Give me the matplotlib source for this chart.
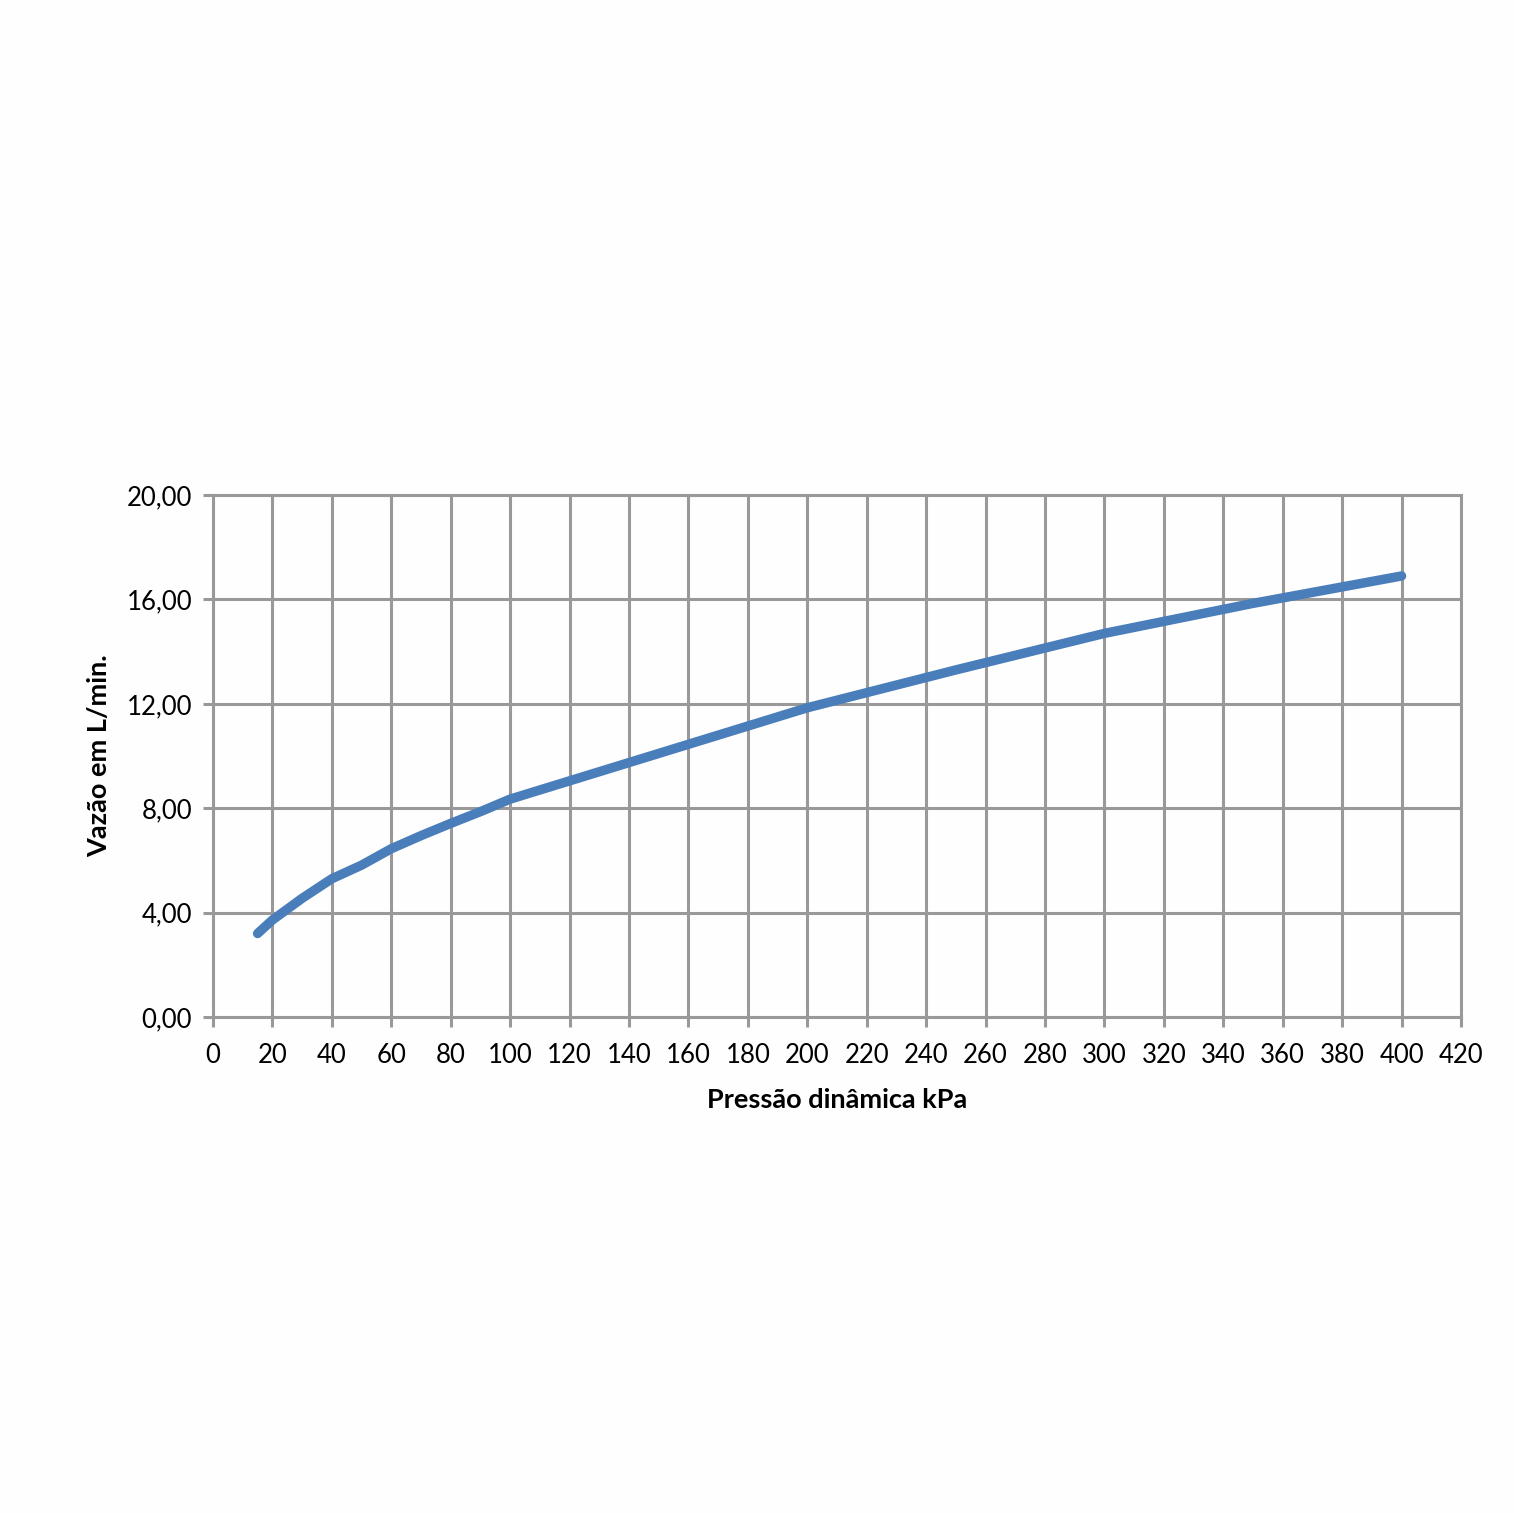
import matplotlib.pyplot as plt
from matplotlib.ticker import FuncFormatter, MultipleLocator

# values
pressure_kpa = [15, 20, 30, 40, 50, 60, 70, 80, 90, 100, 150, 200, 250, 300, 350, 400]
flow_lpm = [3.2, 3.72, 4.55, 5.3, 5.82, 6.45, 6.95, 7.42, 7.87, 8.35,
            10.1, 11.85, 13.3, 14.7, 15.85, 16.9]

x_label = "Pressão dinâmica kPa"
y_label = "Vazão em L/min."

GRID = "#999999"
LINE = "#4a7ebb"


def main() -> None:
    plt.rcParams["font.family"] = ["Lato", "DejaVu Sans"]

    fig = plt.figure(figsize=(15.14, 15.13), dpi=100, facecolor="#fefefe")
    ax = fig.add_axes([0.1407, 0.3278, 0.965 - 0.1407, 0.6728 - 0.3278])
    ax.set_facecolor("#fefefe")

    ax.plot(pressure_kpa, flow_lpm, color=LINE, linewidth=6.8,
            solid_capstyle="round", solid_joinstyle="round", zorder=3)

    ax.set_xlim(0, 420)
    ax.set_ylim(0, 20)
    ax.xaxis.set_major_locator(MultipleLocator(20))
    ax.yaxis.set_major_locator(MultipleLocator(4))
    ax.yaxis.set_major_formatter(FuncFormatter(lambda v, _: f"{v:.2f}".replace(".", ",")))

    ax.grid(True, color=GRID, linewidth=2.2)
    for s in ax.spines.values():
        s.set_color(GRID)
        s.set_linewidth(2.2)
    ax.tick_params(axis="both", colors=GRID, length=7, width=2.2,
                   labelcolor="black", labelsize=18.5)
    ax.tick_params(axis="x", pad=12)
    ax.tick_params(axis="y", pad=8)

    ax.set_xlabel(x_label, fontsize=19.5, fontweight="bold", labelpad=14)
    ax.set_ylabel(y_label, fontsize=19.5, fontweight="bold", labelpad=11)

    fig.savefig("out.png", dpi=100, facecolor=fig.get_facecolor())
    plt.close(fig)


if __name__ == "__main__":
    main()
